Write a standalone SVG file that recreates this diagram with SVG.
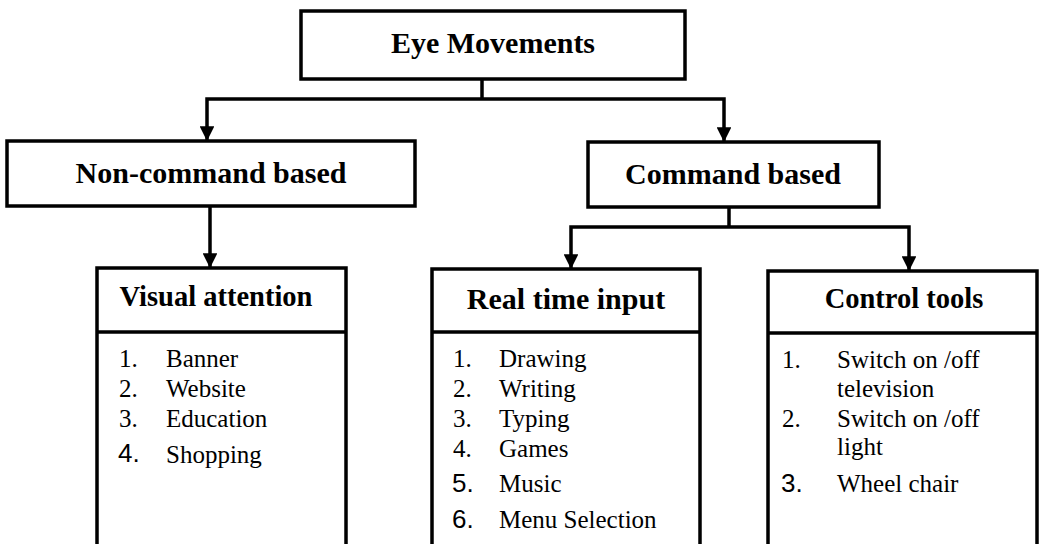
<svg xmlns="http://www.w3.org/2000/svg" width="1041" height="544" viewBox="0 0 1041 544">
<style>
.box{fill:#fff;stroke:#000;stroke-width:3.5}
.ln{fill:none;stroke:#000;stroke-width:3.5}
.hd{font-family:"Liberation Serif","Times New Roman",serif;font-weight:bold;fill:#000;text-anchor:middle}
.it{font-family:"Liberation Serif","Times New Roman",serif;font-size:25px;fill:#000}
.sn{font-family:"Liberation Sans",Arial,sans-serif;font-size:26px;fill:#000}
</style>
<defs>
<marker id="ah" viewBox="0 0 10 10" refX="10" refY="5" markerWidth="4.2" markerHeight="4.2" orient="auto" markerUnits="strokeWidth">
<path d="M0,0 L10,5 L0,10 Z" fill="#000"/>
</marker>
</defs>
<rect width="1041" height="544" fill="#fff"/>
<g id="connectors">
<path class="ln" d="M482,79 V99"/>
<path class="ln" d="M482,99 H207 V141" marker-end="url(#ah)"/>
<path class="ln" d="M482,99 H724 V142" marker-end="url(#ah)"/>
<path class="ln" d="M210,206 V268" marker-end="url(#ah)"/>
<path class="ln" d="M729,207 V227"/>
<path class="ln" d="M729,227 H571 V269" marker-end="url(#ah)"/>
<path class="ln" d="M729,227 H909 V271" marker-end="url(#ah)"/>
</g>
<g id="eye-movements">
<rect class="box" x="301" y="11" width="384" height="68"/>
<text class="hd" x="493" y="53" font-size="30">Eye Movements</text>
</g>
<g id="non-command">
<rect class="box" x="7" y="141" width="408" height="65"/>
<text class="hd" x="211" y="183" font-size="30">Non-command based</text>
</g>
<g id="command">
<rect class="box" x="588" y="142" width="291" height="65"/>
<text class="hd" x="733" y="184" font-size="30">Command based</text>
</g>
<g id="visual-attention">
<rect class="box" x="97" y="268" width="249" height="300"/>
<path class="ln" d="M97,332 H346"/>
<text class="hd" x="216" y="306" font-size="28.5">Visual attention</text>
<text class="it" x="119" y="367">1.</text><text class="it" x="166" y="367">Banner</text>
<text class="it" x="119" y="397">2.</text><text class="it" x="166" y="397">Website</text>
<text class="it" x="119" y="427">3.</text><text class="it" x="166" y="427">Education</text>
<text class="sn" x="118" y="462">4.</text><text class="it" x="166" y="463">Shopping</text>
</g>
<g id="real-time-input">
<rect class="box" x="432" y="269" width="268" height="300"/>
<path class="ln" d="M432,332 H700"/>
<text class="hd" x="566" y="309" font-size="30">Real time input</text>
<text class="it" x="453" y="367">1.</text><text class="it" x="499" y="367">Drawing</text>
<text class="it" x="453" y="397">2.</text><text class="it" x="499" y="397">Writing</text>
<text class="it" x="453" y="427">3.</text><text class="it" x="499" y="427">Typing</text>
<text class="it" x="453" y="457">4.</text><text class="it" x="499" y="457">Games</text>
<text class="sn" x="452" y="492">5.</text><text class="it" x="499" y="492">Music</text>
<text class="sn" x="452" y="528">6.</text><text class="it" x="499" y="528">Menu Selection</text>
</g>
<g id="control-tools">
<rect class="box" x="768" y="271" width="269" height="300"/>
<path class="ln" d="M768,333 H1037"/>
<text class="hd" x="904" y="308" font-size="28.5">Control tools</text>
<text class="it" x="782" y="368">1.</text><text class="it" x="837" y="368">Switch on /off</text>
<text class="it" x="837" y="397">television</text>
<text class="it" x="782" y="427">2.</text><text class="it" x="837" y="427">Switch on /off</text>
<text class="it" x="837" y="455">light</text>
<text class="sn" x="781" y="492">3.</text><text class="it" x="837" y="492">Wheel chair</text>
</g>
</svg>
